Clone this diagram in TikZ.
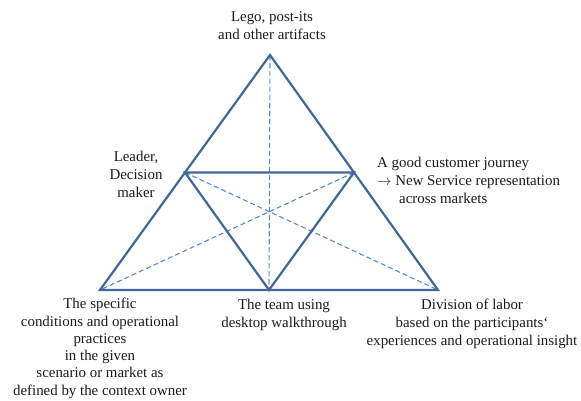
\documentclass[tikz,border=0pt]{standalone}
\usepackage{fontspec}
\setmainfont{Liberation Serif}
\usepackage{tikz}
\usetikzlibrary{calc}
\definecolor{edge}{HTML}{41679A}
\definecolor{guide}{HTML}{5B8ACB}
\definecolor{ink}{HTML}{1C1A18}

\begin{document}
\begin{tikzpicture}[x=1pt,y=-1pt,
  frame/.style={draw=edge,line width=2.2pt,line join=miter},
  guideline/.style={draw=guide,line width=1.1pt,dash pattern=on 5pt off 3pt},
  lbl/.style={text=ink,inner sep=0pt,align=center,font=\fontsize{14.9}{18}\selectfont}]
\useasboundingbox (0,0) rectangle (581,400);
% corners and midpoints
\coordinate (top) at (270,55);
\coordinate (bl) at (100,290);
\coordinate (br) at (438,290);
\coordinate (ml) at ($(top)!0.5!(bl)$);
\coordinate (mr) at ($(top)!0.5!(br)$);
\coordinate (mb) at ($(bl)!0.5!(br)$);
% dashed guides
\draw[guideline] (top)--(mb);
\draw[guideline] (ml)--(br);
\draw[guideline] (mr)--(bl);
% triangles
\draw[frame] (top)--(bl)--(br)--cycle;
\draw[frame] (ml)--(mr)--(mb)--cycle;
% labels
\node[lbl,anchor=north] (artifacts) at (272,11) {Lego, post-its\\and other artifacts};
\node[lbl,anchor=north] (leader) at (136,151) {Leader,\\Decision\\maker};
\node[lbl,anchor=north west,align=left] (journey) at (377,157) {A good customer journey\\$\rightarrow$ New Service representation\\\hspace*{22pt}across markets};
\node[lbl,anchor=north,font=\fontsize{14.9}{17.3}\selectfont] (context) at (100,298) {The specific\\conditions and operational\\practices\\in the given\\scenario or market as\\defined by the context owner};
\node[lbl,anchor=north] (team) at (284,299) {The team using\\desktop walkthrough};
\node[lbl,anchor=north] (labor) at (472,299) {Division of labor\\based on the participants‘\\experiences and operational insight};
\end{tikzpicture}
\end{document}
